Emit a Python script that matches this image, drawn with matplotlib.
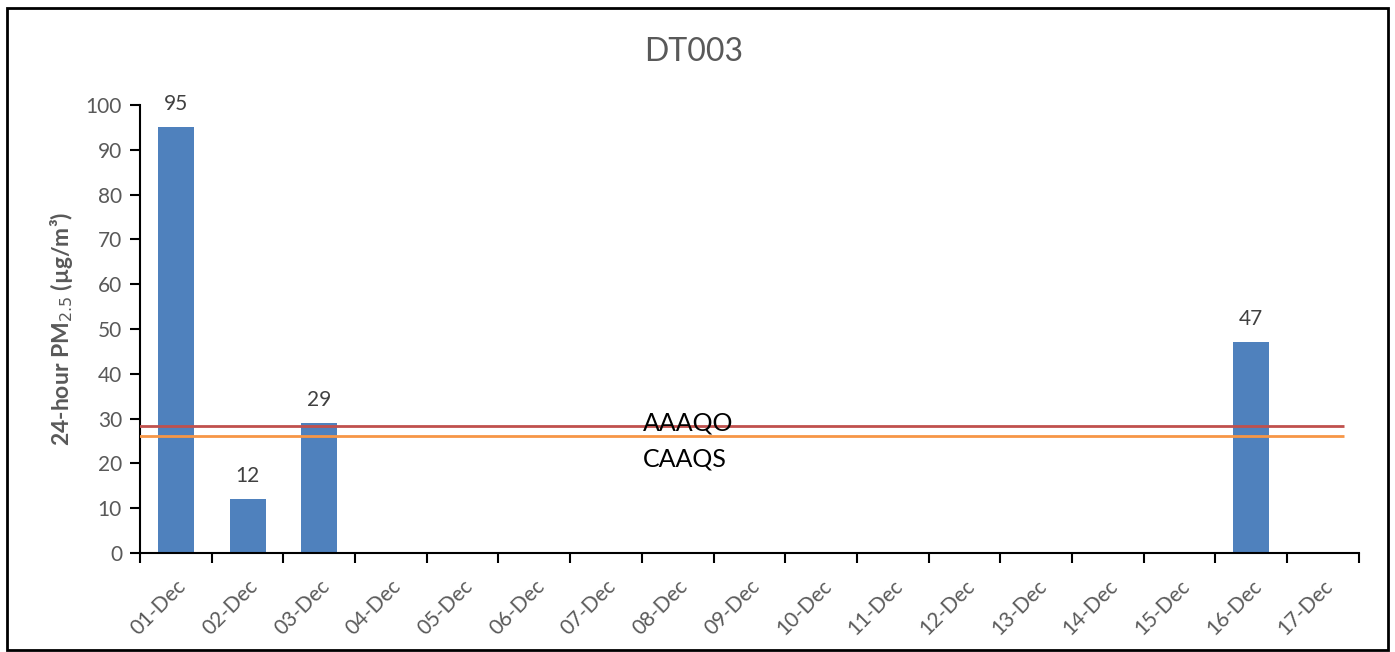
import numpy as np
import matplotlib
matplotlib.use("Agg")
import matplotlib.pyplot as plt
import matplotlib.transforms as mtransforms
from matplotlib.patches import Rectangle

plt.rcParams['font.family'] = ['Lato', 'DejaVu Sans']

days = ['01-Dec', '02-Dec', '03-Dec', '04-Dec', '05-Dec', '06-Dec', '07-Dec', '08-Dec',
        '09-Dec', '10-Dec', '11-Dec', '12-Dec', '13-Dec', '14-Dec', '15-Dec', '16-Dec', '17-Dec']
pm25 = [95, 12, 29, None, None, None, None, None, None, None, None, None, None, None, None, 47, None]
aaaqo = 28.3  # red line
caaqs = 26    # orange line

gray = '#595959'
fig = plt.figure(figsize=(13.95, 6.52), dpi=100)
ax = fig.add_axes([0.1004, 0.152, 0.8736, 0.687])

x = np.arange(len(days))
vals = np.array([np.nan if v is None else v for v in pm25], dtype=float)
ax.bar(x, vals, width=0.5, color='#4f81bd', zorder=2)
for xi, v in zip(x, vals):
    if not np.isnan(v):
        ax.text(xi, v + 3, '%d' % v, ha='center', va='bottom', fontsize=15, color='#404040')

ax.hlines(aaaqo, -0.57, 16.3, color='#c0504d', lw=2, zorder=3)
ax.hlines(caaqs, -0.57, 16.3, color='#f79646', lw=2, zorder=3)
ax.text(6.52, 27.4, 'AAAQO', fontsize=18, color='black', va='baseline')
ax.text(6.52, 19.2, 'CAAQS', fontsize=18, color='black', va='baseline')

ax.set_xlim(-0.5, len(days) - 0.5)
ax.set_ylim(0, 100)
ax.set_yticks(range(0, 101, 10))
ax.set_xticks(x)
ax.set_xticklabels(days, rotation=45, ha='right', rotation_mode='anchor')
shift = mtransforms.ScaledTranslation(-6 / 100, 0, fig.dpi_scale_trans)
for lab in ax.get_xticklabels():
    lab.set_transform(lab.get_transform() + shift)
ax.set_xticks(np.arange(-0.5, len(days), 1), minor=True)
ax.tick_params(axis='x', which='major', length=0, pad=17, labelsize=15, labelcolor=gray)
ax.tick_params(axis='x', which='minor', length=7, width=1.5, direction='out')
ax.tick_params(axis='y', length=7, width=1.5, labelsize=15, labelcolor=gray, pad=6)

for s in ['top', 'right']:
    ax.spines[s].set_visible(False)
for s in ['left', 'bottom']:
    ax.spines[s].set_linewidth(1.5)

ax.set_ylabel('24-hour PM$_{2.5}$ (µg/m³)', fontsize=16.5, fontweight='bold', color=gray, labelpad=8)
fig.text(0.4975, 0.92, 'DT003', ha='center', va='center', fontsize=23, color=gray)

fig.patches.append(Rectangle((0.005, 0.003), 0.99, 0.985, transform=fig.transFigure,
                             fill=False, edgecolor='black', lw=2))

fig.savefig('out.png', dpi=100)
